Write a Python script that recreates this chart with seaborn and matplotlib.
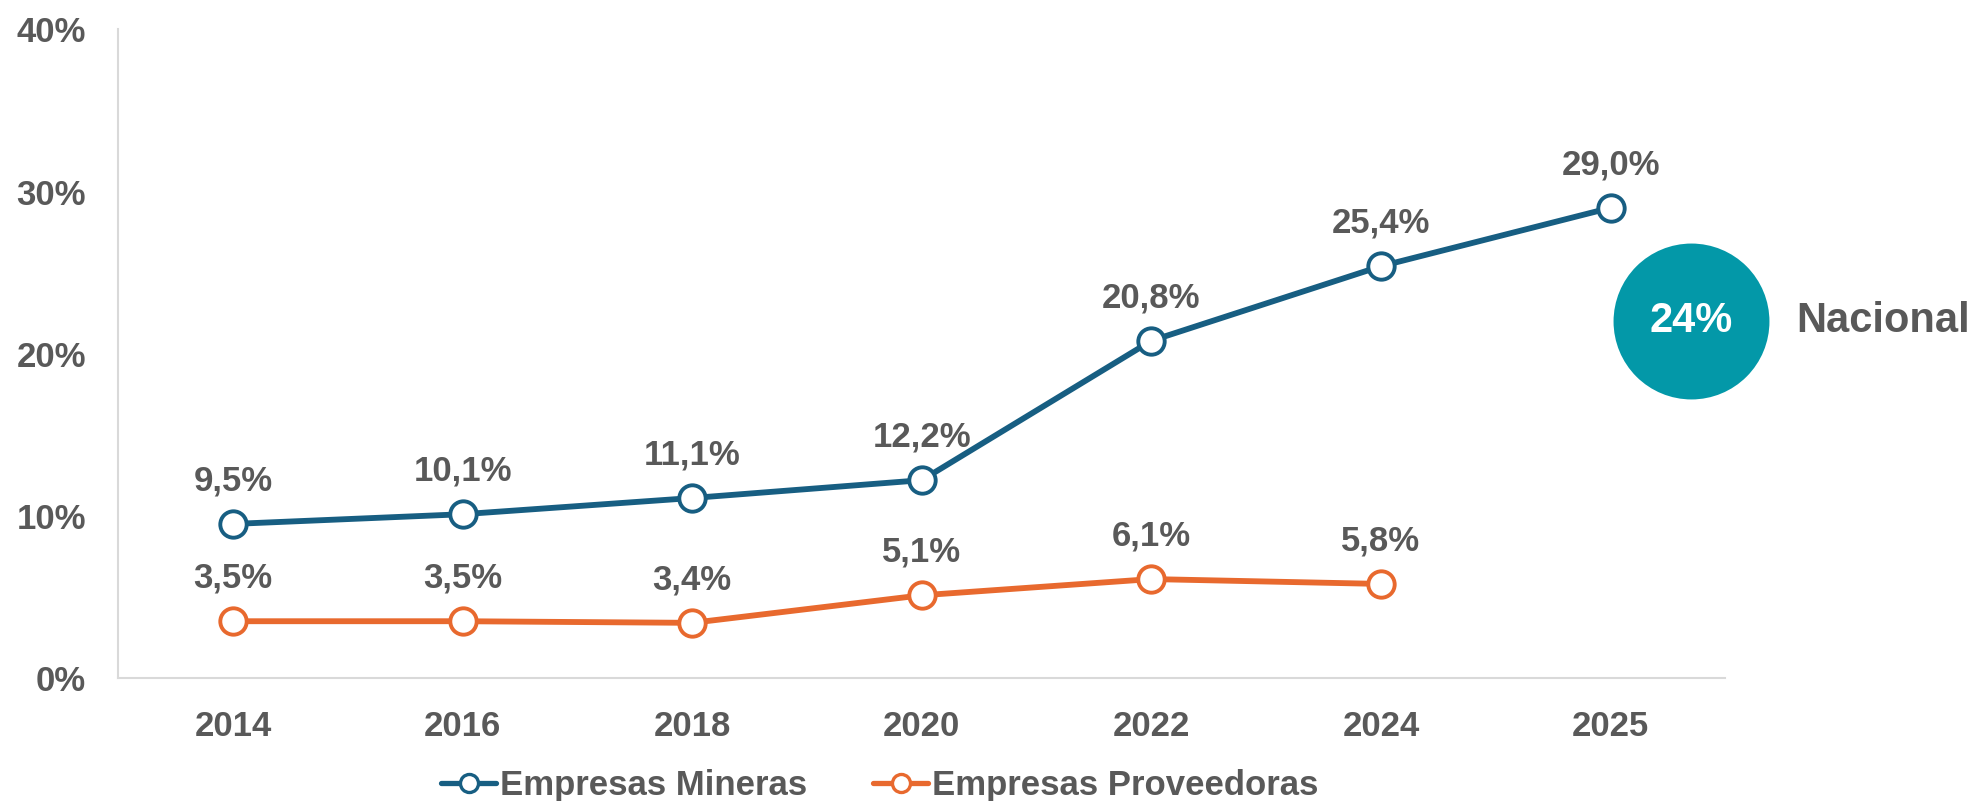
import matplotlib
matplotlib.use("Agg")
import matplotlib.pyplot as plt
from matplotlib.lines import Line2D
import seaborn as sns
import pandas as pd

years = ["2014", "2016", "2018", "2020", "2022", "2024", "2025"]
mineras = [9.5, 10.1, 11.1, 12.2, 20.8, 25.4, 29.0]
proveedoras = [3.5, 3.5, 3.4, 5.1, 6.1, 5.8]
series_names = ["Empresas Mineras", "Empresas Proveedoras"]
y_ticks = [0, 10, 20, 30, 40]
nacional_value = 24
nacional_label = "Nacional"

col_min = "#175E82"
col_prov = "#E8692E"
col_text = "#595959"
col_circle = "#0398A8"

sns.set_style("white")
plt.rcParams["font.family"] = ["Liberation Sans", "DejaVu Sans"]
plt.rcParams["font.weight"] = "bold"

df = pd.concat([
    pd.DataFrame({"Año": years, "Valor": mineras, "Serie": series_names[0]}),
    pd.DataFrame({"Año": years[:len(proveedoras)], "Valor": proveedoras, "Serie": series_names[1]}),
], ignore_index=True)

fig = plt.figure(figsize=(19.81, 8.01), dpi=100)
ax = fig.add_axes([0.0596, 0.1536, 0.8114, 0.8096])

palette = {series_names[0]: col_min, series_names[1]: col_prov}
sns.lineplot(data=df, x="Año", y="Valor", hue="Serie", palette=palette,
             marker="o", markersize=19, linewidth=4.2, sort=False,
             legend=False, ax=ax)
for ln in ax.lines:
    c = ln.get_color()
    ln.set_markeredgecolor(c)
    ln.set_markerfacecolor("white")
    ln.set_markeredgewidth(2.8)
    ln.set_zorder(3)

# data labels
for i, v in enumerate(mineras):
    ax.annotate(f"{v:.1f}".replace(".", ",") + "%", (i, v), xytext=(0, 31),
                textcoords="offset points", ha="center", va="center",
                fontsize=25, fontweight="bold", color=col_text, zorder=5)
for i, v in enumerate(proveedoras):
    ax.annotate(f"{v:.1f}".replace(".", ",") + "%", (i, v), xytext=(0, 31),
                textcoords="offset points", ha="center", va="center",
                fontsize=25, fontweight="bold", color=col_text, zorder=5)

ax.set_xlim(-0.5, 6.5)
ax.set_ylim(0, 40)
ax.set_yticks(y_ticks)
ax.set_yticklabels([f"{t}%" for t in y_ticks])
ax.set_xlabel("")
ax.set_ylabel("")
ax.tick_params(axis="both", length=0, labelsize=25, labelcolor=col_text)
ax.tick_params(axis="x", pad=23)
ax.tick_params(axis="y", pad=23)
for lab in ax.get_xticklabels() + ax.get_yticklabels():
    lab.set_fontweight("bold")
for s in ["top", "right"]:
    ax.spines[s].set_visible(False)
for s in ["left", "bottom"]:
    ax.spines[s].set_color("#D9D9D9")
    ax.spines[s].set_linewidth(1.5)

# national circle
ax.scatter([6.35], [22.0], s=12600, color=col_circle, clip_on=False, zorder=4,
           linewidths=0)
ax.text(6.35, 22.0, f"{nacional_value}%", color="white", fontsize=30,
        fontweight="bold", ha="center", va="center", clip_on=False, zorder=6)
ax.text(6.81, 22.0, nacional_label, color=col_text, fontsize=30,
        fontweight="bold", ha="left", va="center", clip_on=False, zorder=6)

handles = [Line2D([], [], color=c, linewidth=3.8, marker="o", markersize=13,
                  markerfacecolor="white", markeredgecolor=c, markeredgewidth=2.4)
           for c in (col_min, col_prov)]
leg = fig.legend(handles, series_names, loc="center", bbox_to_anchor=(0.444, 0.019),
                 ncol=2, frameon=False, fontsize=25, handlelength=1.6,
                 handletextpad=0.1, columnspacing=1.9)
for t in leg.get_texts():
    t.set_color(col_text)
    t.set_fontweight("bold")

fig.savefig("out.png", dpi=100, facecolor="white")
